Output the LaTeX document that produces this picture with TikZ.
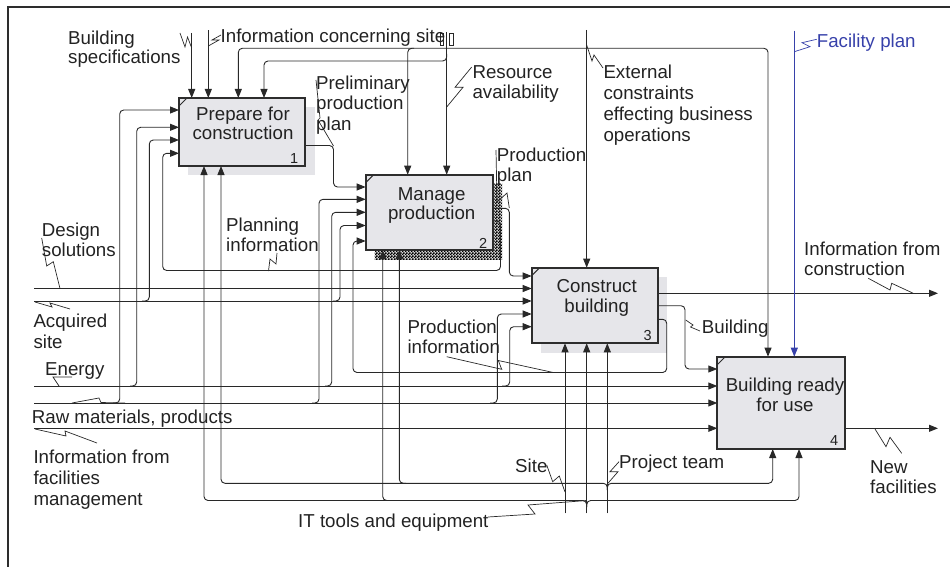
\documentclass[tikz,border=0pt]{standalone}
\usepackage{fontspec}
\setmainfont{Liberation Sans}
\usetikzlibrary{arrows.meta,patterns,calc}

\definecolor{ink}{RGB}{34,34,34}
\definecolor{wire}{RGB}{40,40,40}
\definecolor{boxline}{RGB}{45,45,45}
\definecolor{boxfill}{RGB}{230,230,234}
\definecolor{shadowgray}{RGB}{228,228,232}
\definecolor{plan}{RGB}{55,65,170}

% fine checker stipple for the shadow of box 2
\pgfdeclarepatternformonly{stipple}{\pgfpointorigin}{\pgfpoint{3pt}{3pt}}{\pgfpoint{3pt}{3pt}}{
  \pgfpathrectangle{\pgfpointorigin}{\pgfpoint{1.9pt}{1.9pt}}
  \pgfpathrectangle{\pgfpoint{1.5pt}{1.5pt}}{\pgfpoint{1.9pt}{1.9pt}}
  \pgfusepath{fill}
}

% stacked text lines, baseline on the first line
\newcommand\linesL[1]{\vtop{\lineskiplimit=-100pt\halign{##\hfil\cr#1\crcr}}}
\newcommand\linesC[1]{\vtop{\lineskiplimit=-100pt\halign{\hfil##\hfil\cr#1\crcr}}}

\tikzset{
  frame/.style={draw=boxline, line width=1.6pt},
  flow/.style={draw=wire, line width=0.9pt, rounded corners=4pt},
  arr/.style={flow, -{Triangle[length=9pt,width=7pt]}},
  callout/.style={draw=wire, line width=0.7pt},
  box/.style={draw=boxline, fill=boxfill, line width=1.7pt, inner sep=0pt, outer sep=0pt, anchor=north west},
  tick/.style={draw=boxline, line width=1pt},
  lab/.style={font=\fontsize{18.7}{20.5}\selectfont, text=ink, inner sep=0pt, anchor=base west},
  boxlab/.style={lab, anchor=base},
  num/.style={font=\fontsize{14.5}{14.5}\selectfont, text=ink, inner sep=0pt, anchor=base east}
}

\begin{document}
\begin{tikzpicture}[x=1pt,y=-1pt]
\useasboundingbox (0,0) rectangle (950,567);

% outer frame
\draw[frame] (8,567) -- (8,7) -- (950,7);

% shadows behind the activity boxes
\fill[shadowgray] (188,107) rectangle (315,175);
\fill[gray!35] (374.5,183.5) rectangle (502,259);
\fill[pattern=stipple, pattern color=black] (374.5,183.5) rectangle (502,259);
\fill[shadowgray] (540.5,276.5) rectangle (667,352.7);

% activity boxes (placed here, drawn on top of the wiring)
\path (179,98) coordinate (b1nw) (365.7,174.7) coordinate (b2nw)
      (531.7,267.7) coordinate (b3nw) (717.3,356.7) coordinate (b4nw);
\node[box, draw=none, fill=none, minimum width=126pt, minimum height=68pt] (b1) at (b1nw) {};
\node[box, draw=none, fill=none, minimum width=127pt, minimum height=75.3pt] (b2) at (b2nw) {};
\node[box, draw=none, fill=none, minimum width=126.6pt, minimum height=75.6pt] (b3) at (b3nw) {};
\node[box, draw=none, fill=none, minimum width=127.7pt, minimum height=92.3pt] (b4) at (b4nw) {};

% ---- inputs entering from the left
\coordinate (inDS) at (34,288.5);
\coordinate (inAS) at (34,301);
\coordinate (inEN) at (34,386);
\coordinate (inRM) at (34,403);
\coordinate (inFM) at (34,428.3);

\draw[arr] (inDS) -- (b3.west |- inDS);
\draw[arr] (inAS) -- (b3.west |- inAS);
\draw[arr] (142,301) -| (149.3,140) -- (b1.west |- 0,140);
\draw[arr] (333,301) -| (340,225.5) -- (b2.west |- 0,225.5);

\draw[arr] (inEN) -- (b4.west |- inEN);
\draw[arr] (130,386) -| (136.7,127.3) -- (b1.west |- 0,127.3);
\draw[arr] (325,386) -| (331.7,212.3) -- (b2.west |- 0,212.3);
\draw[arr] (502,386) -| (509.7,326.7) -- (b3.west |- 0,326.7);

\draw[arr] (inRM) -- (b4.west |- inRM);
\draw[arr] (113,403) -| (119.7,110) -- (b1.west |- 0,110);
\draw[arr] (312,403) -| (319,199.3) -- (b2.west |- 0,199.3);
\draw[arr] (490,403) -| (497.3,314) -- (b3.west |- 0,314);

\draw[arr] (inFM) -- (b4.west |- inFM);

% ---- outputs
\draw[arr] (b1.east |- 0,145.5) -- (333.5,145.5) |- (b2.west |- 0,187);
\draw[arr] (b2.east |- 0,208.3) -- (509.3,208.3) |- (b3.west |- 0,276);
\draw[arr] (b2.east |- 0,221) -| (500.5,270.5) -| (162.7,153.3) -- (b1.west |- 0,153.3);
\coordinate (outIC) at (938,293.3);
\draw[arr] (b3.east |- outIC) -- (outIC);
\draw[arr] (b3.east |- 0,305.7) -| (685,369) -- (b4.west |- 0,369);
\draw[arr] (b3.east |- 0,319.3) -| (666.7,372.5) -| (353,241) -- (b2.west |- 0,241);
\coordinate (outNF) at (938,428.3);
\draw[arr] (b4.east |- outNF) -- (outNF);

% ---- controls from the top
\coordinate (ctlBS) at (191.7,33);
\coordinate (ctlIS) at (208.3,30.5);
\coordinate (ctlRA) at (446.7,32);
\coordinate (ctlEC) at (586.7,30);
\coordinate (ctlFP) at (794.3,30.7);
\draw[arr] (ctlBS) -- (b1.north -| ctlBS);
\draw[arr] (ctlIS) -- (b1.north -| ctlIS);
\draw[arr] (ctlRA) -- (b2.north -| ctlRA);
\draw[arr] (446.7,54) |- (264,61) -- (b1.north -| 264,0);
\draw[arr] (ctlEC) -- (b3.north -| ctlEC);
\draw[arr] (586.7,48.3) -| (b1.north -| 238.3,0);
\draw[arr] (414,48.3) -| (b2.north -| 407.7,0);
\draw[arr] (586.7,48.3) -| (b4.north -| 768,0);
\draw[arr, draw=plan] (ctlFP) -- (b4.north -| ctlFP);

% ---- mechanisms from the bottom
\coordinate (mSite) at (565,513.3);
\coordinate (mIT) at (586.7,513.3);
\coordinate (mPT) at (607.3,513.3);
\draw[arr] (mSite) -- (b3.south -| mSite);
\draw[arr] (mIT) -- (b3.south -| mIT);
\draw[arr] (586.7,507) |- (204,500.5) -- (b1.south -| 204,0);
\draw[arr] (586.7,507) |- (799,500.5) -- (b4.south -| 799,0);
\draw[arr] (390,500.5) -| (b2.south -| 382.7,0);
\draw[arr] (mPT) -- (b3.south -| mPT);
\draw[arr] (607.3,490) |- (221,483.3) -- (b1.south -| 221,0);
\draw[arr] (607.3,490) |- (772.7,483.3) -- (b4.south -| 772.7,0);
\draw[arr] (406,483.3) -| (b2.south -| 399.3,0);

% ---- label squiggles
\draw[callout] (180,33) -- (185,47) -- (187.5,37) -- (191.7,48);
\draw[callout] (208.3,46) -- (219,40) -- (212,40) -- (221,35);
\draw[callout] (440.5,33.5) rectangle (443,45);
\draw[callout] (449.5,33.5) rectangle (453,45);
\draw[callout] (316,80) -- (320,118) -- (318,120) -- (333.5,146);
\draw[callout] (471.7,67) -- (455,87.3) -- (463,87.3) -- (446.7,107);
\draw[callout] (603,68) -- (594,55) -- (592,61) -- (586.7,45);
\draw[callout, draw=plan] (816.7,39.3) -- (802,42.7) -- (810,46.7) -- (794.3,51.7);
\draw[callout] (496,150) -- (497,202) -- (507,193) -- (509.3,208);
\draw[callout] (41.7,238) -- (46.7,266) -- (53.3,261.7) -- (60,288.5);
\draw[callout] (277,253) -- (276,264) -- (270,259) -- (268.5,271);
\draw[callout] (35,302) -- (52,307) -- (50,303) -- (70,309);
\draw[callout] (72,377) -- (53,377) -- (59,386);
\draw[callout] (72,403) -- (99,398) -- (101,402.5) -- (125,403);
\draw[callout] (35,429) -- (66,436) -- (65,431) -- (97,443);
\draw[callout] (446.7,356.7) -- (501.7,369.3) -- (498.3,360.5) -- (553.3,372.5);
\draw[callout] (685.7,320) -- (693,325) -- (690.5,327) -- (700,331);
\draw[callout] (868.3,278.3) -- (890,290) -- (891.7,283.3) -- (913.3,293.3);
\draw[callout] (875,429) -- (886,446.7) -- (890,437.3) -- (901.7,453.3);
\draw[callout] (546.7,465) -- (552.7,481.7) -- (559.3,476) -- (565,492);
\draw[callout] (619,461.7) -- (610,471.7) -- (618,471.7) -- (607.3,484);
\draw[callout] (488,517) -- (535,514) -- (528,505) -- (586.7,500.5);

% ---- the activity boxes on top
\foreach \b in {b1,b2,b3,b4} {
  \draw[box] (\b.north west) rectangle (\b.south east);
  \draw[tick] ($(\b.north west)+(0,8)$) -- ($(\b.north west)+(8,0)$);
}

\node[boxlab, font=\fontsize{18.7}{18.7}\selectfont] (t1) at (243,120.7) {\linesC{Prepare for\cr construction}};
\node[boxlab, font=\fontsize{18.7}{19.3}\selectfont] (t2) at (431.7,200) {\linesC{Manage\cr production}};
\node[boxlab, font=\fontsize{18.7}{20}\selectfont] (t3) at (596.7,292.7) {\linesC{Construct\cr building}};
\node[boxlab, font=\fontsize{18.7}{19.3}\selectfont] (t4) at (785,391.7) {\linesC{Building ready\cr for use}};

\node[num] (n1) at (298.5,163) {1};
\node[num] (n2) at (487.5,248) {2};
\node[num] (n3) at (652,340) {3};
\node[num] (n4) at (838.5,445.3) {4};

% ---- arrow labels
\node[lab, font=\fontsize{18.7}{19}\selectfont] (lBS) at (68,44.5) {\linesL{Building\cr specifications}};
\node[lab] (lIS) at (220.5,42.5) {Information concerning site};
\node[lab] (lPP) at (316,89.5) {\linesL{Preliminary\cr production\cr plan}};
\node[lab, font=\fontsize{18.7}{20.7}\selectfont] (lRA) at (472.3,78.3) {\linesL{Resource\cr availability}};
\node[lab, font=\fontsize{18.7}{21}\selectfont] (lEC) at (603.3,78.3) {\linesL{External\cr constraints\cr effecting business\cr operations}};
\node[lab, text=plan] (lFP) at (816.7,47.7) {Facility plan};
\node[lab, font=\fontsize{18.7}{20}\selectfont] (lPR) at (496.7,161.7) {\linesL{Production\cr plan}};
\node[lab, font=\fontsize{18.7}{20}\selectfont] (lDS) at (41.7,236) {\linesL{Design\cr solutions}};
\node[lab, font=\fontsize{18.7}{20}\selectfont] (lPI) at (226,231.7) {\linesL{Planning\cr information}};
\node[lab, font=\fontsize{18.7}{20.6}\selectfont] (lAS) at (33.3,327.7) {\linesL{Acquired\cr site}};
\node[lab] (lEN) at (45,375) {Energy};
\node[lab] (lRM) at (31.7,423) {Raw materials, products};
\node[lab, font=\fontsize{18.7}{21}\selectfont] (lFM) at (33.3,463.3) {\linesL{Information from\cr facilities\cr management}};
\node[lab, font=\fontsize{18.7}{20}\selectfont] (lPN) at (407.3,333.3) {\linesL{Production\cr information}};
\node[lab] (lBU) at (701.7,333.3) {Building};
\node[lab, font=\fontsize{18.7}{20}\selectfont] (lIC) at (804,255) {\linesL{Information from\cr construction}};
\node[lab] (lPT) at (619,468.3) {Project team};
\node[lab] (lSI) at (515,472.7) {Site};
\node[lab] (lIT) at (298,527.3) {IT tools and equipment};
\node[lab, font=\fontsize{18.7}{20}\selectfont] (lNF) at (870,473.3) {\linesL{New\cr facilities}};
\end{tikzpicture}
\end{document}
